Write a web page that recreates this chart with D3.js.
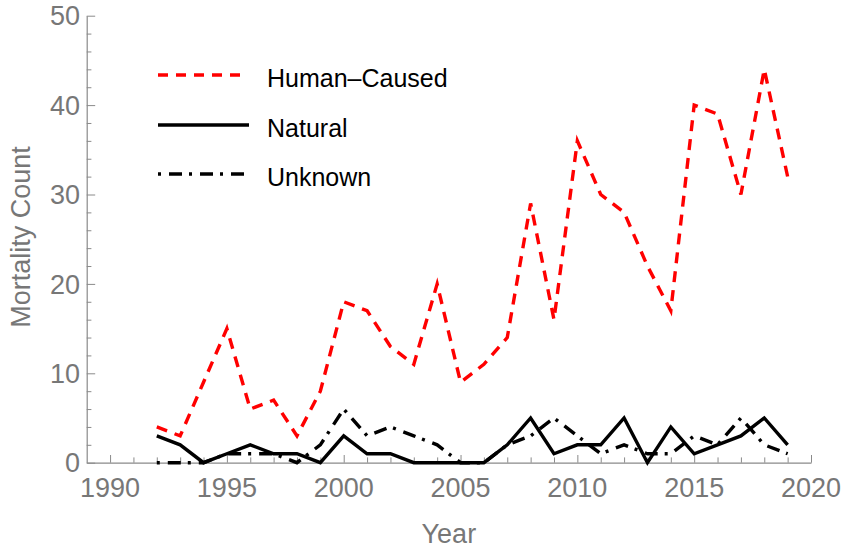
<!DOCTYPE html>
<html>
<head>
<meta charset="utf-8">
<script src="https://cdn.jsdelivr.net/npm/d3@7"></script>
<style>
  html, body { margin: 0; padding: 0; background: #fff; }
  svg text { font-family: "Liberation Sans", Arial, sans-serif; }
</style>
</head>
<body>
<div id="chart"></div>
<script>
// values
const years = d3.range(1992, 2020);
const humanCaused = [4, 3, 9, 15, 6, 7, 3, 8, 18, 17, 13, 11, 20, 9, 11, 14, 29, 16, 36, 30, 28, 22, 17, 40, 39, 30, 44, 32];
const natural = [3, 2, 0, 1, 2, 1, 1, 0, 3, 1, 1, 0, 0, 0, 0, 2, 5, 1, 2, 2, 5, 0, 4, 1, 2, 3, 5, 2];
const unknown = [0, 0, 0, 1, 1, 1, 0, 2, 6, 3, 4, 3, 2, 0, 0, 2, 3, 5, 3, 1, 2, 1, 1, 3, 2, 5, 2, 1];
const seriesNames = ['Human\u2013Caused', 'Natural', 'Unknown'];
const xMajorTicks = [1990, 1995, 2000, 2005, 2010, 2015, 2020];
const yMajorTicks = [0, 10, 20, 30, 40, 50];

const width = 844, height = 549;
const axisColor = '#8a8a8a', labelColor = '#777';

const svg = d3.select('#chart').append('svg')
    .attr('width', width)
    .attr('height', height);

const x = d3.scaleLinear().domain([1989, 2020]).range([86.7, 811]);
const y = d3.scaleLinear().domain([0, 50]).range([462.7, 15.7]);

// y axis (ticks point inward)
const yAxis = d3.axisLeft(y)
    .tickValues(d3.range(0, 51, 2))
    .tickSize(0)
    .tickFormat('');
const gy = svg.append('g')
    .attr('transform', 'translate(' + x(1989) + ',0)')
    .call(yAxis);
gy.select('.domain').attr('stroke', axisColor).attr('stroke-width', 1.2);
gy.selectAll('.tick line')
    .attr('x2', d => d % 10 === 0 ? 8.5 : 4.7)
    .attr('stroke', axisColor)
    .attr('stroke-width', 1);
svg.append('g').selectAll('text')
    .data(yMajorTicks)
  .enter().append('text')
    .attr('x', 80)
    .attr('y', d => y(d))
    .attr('dy', '0.36em')
    .attr('text-anchor', 'end')
    .attr('font-size', '27px')
    .attr('fill', labelColor)
    .text(d => d);

// x axis
const xAxis = d3.axisBottom(x)
    .tickValues(d3.range(1990, 2021))
    .tickSize(0)
    .tickFormat('');
const gx = svg.append('g')
    .attr('transform', 'translate(0,' + y(0) + ')')
    .call(xAxis);
gx.select('.domain').attr('stroke', axisColor).attr('stroke-width', 1.2);
gx.selectAll('.tick line')
    .attr('y2', d => d % 5 === 0 ? -7.7 : -5.3)
    .attr('stroke', axisColor)
    .attr('stroke-width', 1);
svg.append('g').selectAll('text')
    .data(xMajorTicks)
  .enter().append('text')
    .attr('x', d => x(d))
    .attr('y', 496.5)
    .attr('text-anchor', 'middle')
    .attr('font-size', '27px')
    .attr('fill', labelColor)
    .text(d => d);

// axis labels
svg.append('text')
    .attr('x', (x.range()[0] + x.range()[1]) / 2)
    .attr('y', 543)
    .attr('text-anchor', 'middle')
    .attr('font-size', '27px')
    .attr('fill', labelColor)
    .text('Year');
svg.append('text')
    .attr('transform', 'translate(30,237) rotate(-90)')
    .attr('text-anchor', 'middle')
    .attr('font-size', '27px')
    .attr('fill', labelColor)
    .text('Mortality Count');

// series
const styles = [
    { color: '#ff0000', dash: '11,8' },
    { color: '#000', dash: null },
    { color: '#000', dash: '3,8,13,7' }
];
const series = [humanCaused, natural, unknown];

const line = d3.line()
    .x((d, i) => x(years[i]))
    .y(d => y(d));

// draw black ones first, red on top
[2, 1, 0].forEach(k => {
    svg.append('path')
        .datum(series[k])
        .attr('fill', 'none')
        .attr('stroke', styles[k].color)
        .attr('stroke-width', 3.4)
        .attr('stroke-dasharray', styles[k].dash)
        .attr('stroke-linejoin', 'miter')
        .attr('d', line);
});

// legend
const legendRows = [75, 125, 174];
const legend = svg.append('g');
seriesNames.forEach((name, k) => {
    legend.append('line')
        .attr('x1', 158)
        .attr('x2', k === 1 ? 249 : 247)
        .attr('y1', legendRows[k])
        .attr('y2', legendRows[k])
        .attr('stroke', styles[k].color)
        .attr('stroke-width', 3.4)
        .attr('stroke-dasharray', k === 0 ? '10,8' : styles[k].dash);
    legend.append('text')
        .attr('x', 267)
        .attr('y', legendRows[k] + 11.5)
        .attr('font-size', '25px')
        .attr('fill', '#000')
        .text(name);
});
</script>
</body>
</html>
